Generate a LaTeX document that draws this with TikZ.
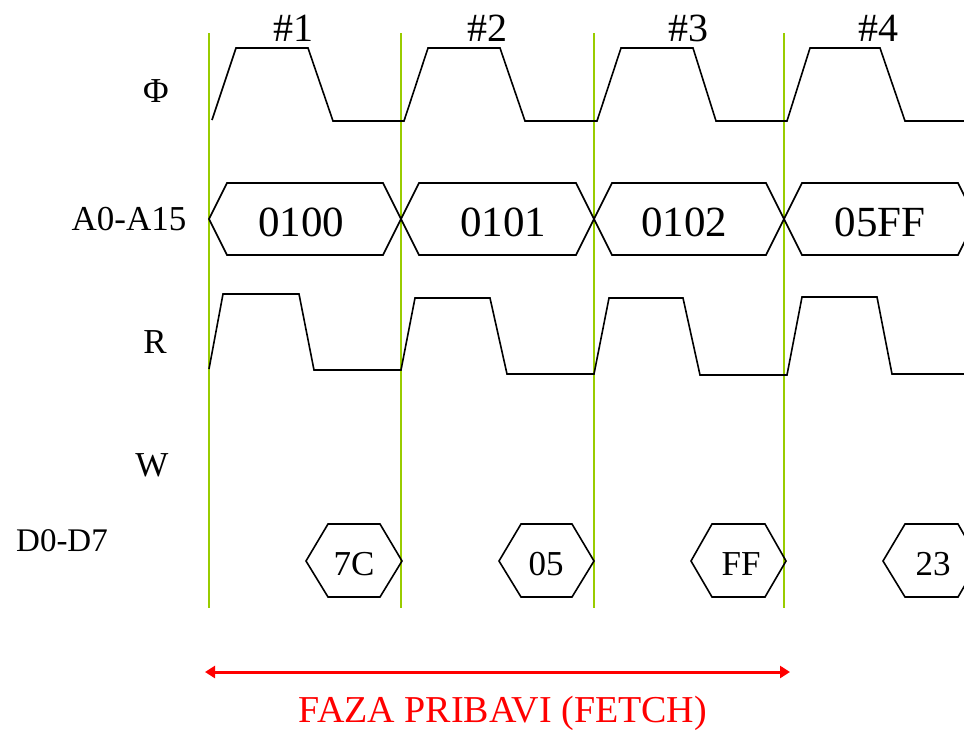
\documentclass[tikz,border=0pt]{standalone}
\usepackage{fontspec}
\setmainfont{Liberation Serif}
\usetikzlibrary{arrows.meta}
\definecolor{gridgreen}{RGB}{153,204,0}
\definecolor{fetchred}{RGB}{255,0,0}
\tikzset{
  wave/.style={line width=1.6pt, black, line join=miter},
  marker/.style={line width=2pt, gridgreen},
  biglbl/.style={inner sep=0pt, font=\fontsize{43}{48}\selectfont},
  cyclbl/.style={inner sep=0pt, font=\fontsize{40}{46}\selectfont},
  siglbl/.style={inner sep=0pt, font=\fontsize{35}{40}\selectfont},
  datalbl/.style={inner sep=0pt, font=\fontsize{35}{40}\selectfont},
  fetchlbl/.style={inner sep=0pt, text=fetchred, font=\fontsize{38}{44}\selectfont},
}
\begin{document}
\begin{tikzpicture}[x=1pt,y=-1pt]
\useasboundingbox (0,0) rectangle (964,732);
\begin{scope}
\clip (0,0) rectangle (964,732);
% green cycle markers
\foreach \gx in {209,401,594,784}
  \draw[marker] (\gx,33) -- (\gx,608);
% Phi clock
\draw[wave] (212,120) -- (236,48) -- (308,48) -- (333,121) -- (404,121) -- (428,48) -- (500,48) -- (525,121) -- (597,121) -- (621,48) -- (693,48) -- (716,121) -- (787,121) -- (810,48) -- (880,48) -- (905,121) -- (970,121);
% address bus
\draw[wave] (209,219) -- (227,183) -- (383,183) -- (401,219) -- (383,255) -- (227,255) -- cycle;
\draw[wave] (401,219) -- (419,183) -- (576,183) -- (594,219) -- (576,255) -- (419,255) -- cycle;
\draw[wave] (594,219) -- (612,183) -- (766,183) -- (784,219) -- (766,255) -- (612,255) -- cycle;
\draw[wave] (784,219) -- (802,183) -- (958,183) -- (976,219) -- (958,255) -- (802,255) -- cycle;
% R signal
\draw[wave] (209,369) -- (223,294) -- (299,294) -- (314,370) -- (401,370) -- (415,298) -- (490,298) -- (507,374) -- (594,374) -- (609,298) -- (683,298) -- (700,375) -- (787,375) -- (802,297) -- (877,297) -- (892,374) -- (970,374);
% data bus
\draw[wave] (306,561) -- (328,524) -- (380,524) -- (402,561) -- (380,597) -- (328,597) -- cycle;
\draw[wave] (499,561) -- (521,524) -- (572,524) -- (594,561) -- (572,597) -- (521,597) -- cycle;
\draw[wave] (691,561) -- (712,524) -- (765,524) -- (786,561) -- (765,597) -- (712,597) -- cycle;
\draw[wave] (883,561) -- (905,524) -- (958,524) -- (979,561) -- (958,597) -- (905,597) -- cycle;
\end{scope}
% cycle labels
\node[cyclbl] (c1) at (293,28) {\#1};
\node[cyclbl] (c2) at (487,28) {\#2};
\node[cyclbl] (c3) at (688,28) {\#3};
\node[cyclbl] (c4) at (878,28) {\#4};
% signal labels
\node[siglbl] (lphi) at (156,91) {Φ};
\node[siglbl] (laddr) at (129,219) {A0-A15};
\node[siglbl] (lr) at (155,342) {R};
\node[siglbl] (lw) at (152,465) {W};
\node[siglbl, font=\fontsize{33}{38}\selectfont] (ld) at (62,541) {D0-D7};
% address values
\node[biglbl] (a1) at (301,222) {0100};
\node[biglbl] (a2) at (503,222) {0101};
\node[biglbl] (a3) at (684,222) {0102};
\node[biglbl] (a4) at (880,222) {05FF};
% data values
\node[datalbl] (d1) at (354,564) {7C};
\node[datalbl] (d2) at (546,564) {05};
\node[datalbl] (d3) at (741,564) {FF};
\node[datalbl] (d4) at (933,564) {23};
% fetch phase
\coordinate (fs) at (205,672);
\coordinate (fe) at (790,672);
\draw[fetchred, line width=3pt, {Triangle[length=10pt,width=12pt]}-{Triangle[length=10pt,width=12pt]}] (fs) -- (fe);
\node[fetchlbl] (fetch) at (503,713) {FAZA PRIBAVI (FETCH)};
\end{tikzpicture}
\end{document}
